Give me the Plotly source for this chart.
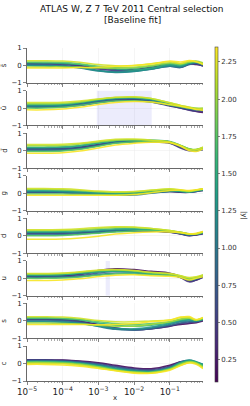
import plotly.graph_objects as go
from plotly.subplots import make_subplots
from plotly.colors import sample_colorscale

# ---------------- data ----------------
X = [1e-5, 3e-5, 1e-4, 3e-4, 1e-3, 3e-3, 1e-2, 3e-2, 0.1, 0.2, 0.35, 0.55, 0.85]
ABS_Y = [0.15, 0.45, 0.75, 1.0, 1.25, 1.5, 1.75, 2.0, 2.2, 2.33]
LABELS = ["s̄", "ū", "d̄", "g", "d", "u", "s", "c"]

sbar = [
    [0.12, 0.12, 0.1, 0.0, -0.15, -0.22, -0.22, -0.1, 0.05, -0.05, 0.1, 0.05, 0.0],
    [0.08, 0.08, 0.05, -0.05, -0.2, -0.28, -0.28, -0.15, 0.0, -0.1, 0.08, 0.1, -0.05],
    [0.05, 0.04, 0.0, -0.1, -0.28, -0.35, -0.3, -0.2, -0.05, -0.12, 0.05, 0.12, 0.0],
    [0.02, 0.0, -0.05, -0.15, -0.32, -0.4, -0.35, -0.22, -0.05, -0.1, 0.1, 0.15, 0.05],
    [0.0, -0.02, -0.05, -0.12, -0.3, -0.38, -0.33, -0.2, 0.0, -0.05, 0.12, 0.18, 0.05],
    [0.15, 0.14, 0.12, 0.05, -0.1, -0.2, -0.25, -0.15, 0.05, 0.0, 0.15, 0.2, 0.1],
    [0.2, 0.2, 0.18, 0.1, -0.05, -0.12, -0.15, -0.05, 0.12, 0.05, 0.18, 0.22, 0.1],
    [-0.08, -0.08, -0.08, -0.1, -0.15, -0.15, -0.1, 0.0, 0.15, 0.1, 0.2, 0.25, 0.15],
    [0.27, 0.27, 0.25, 0.18, 0.05, -0.02, 0.0, 0.1, 0.22, 0.12, 0.25, 0.2, 0.1],
    [-0.15, -0.15, -0.14, -0.12, -0.1, -0.05, 0.0, 0.08, 0.25, 0.2, 0.28, 0.22, 0.05],
]
ubar = [
    [0.12, 0.12, 0.15, 0.25, 0.4, 0.5, 0.5, 0.4, 0.15, 0.0, -0.1, -0.2, -0.25],
    [0.1, 0.1, 0.12, 0.2, 0.35, 0.45, 0.45, 0.35, 0.12, 0.0, -0.12, -0.18, -0.2],
    [0.05, 0.05, 0.08, 0.15, 0.3, 0.42, 0.45, 0.38, 0.15, 0.05, -0.05, -0.1, -0.15],
    [0.08, 0.08, 0.12, 0.22, 0.4, 0.52, 0.55, 0.45, 0.2, 0.05, -0.05, -0.1, -0.1],
    [0.15, 0.15, 0.18, 0.3, 0.45, 0.55, 0.58, 0.5, 0.25, 0.1, 0.0, -0.05, -0.05],
    [0.2, 0.2, 0.22, 0.32, 0.48, 0.58, 0.6, 0.5, 0.22, 0.1, 0.0, -0.05, -0.08],
    [0.0, 0.0, 0.05, 0.15, 0.3, 0.4, 0.42, 0.35, 0.18, 0.08, 0.0, -0.05, -0.1],
    [0.25, 0.25, 0.28, 0.35, 0.5, 0.6, 0.62, 0.55, 0.3, 0.15, 0.05, 0.0, 0.0],
    [0.32, 0.32, 0.33, 0.4, 0.52, 0.62, 0.65, 0.55, 0.3, 0.15, 0.05, -0.05, -0.05],
    [-0.1, -0.1, -0.05, 0.05, 0.2, 0.32, 0.38, 0.35, 0.2, 0.1, 0.0, -0.08, -0.12],
]
dbar = [
    [0.12, 0.12, 0.12, 0.2, 0.35, 0.5, 0.55, 0.55, 0.45, 0.2, 0.05, 0.05, 0.1],
    [0.1, 0.1, 0.1, 0.15, 0.3, 0.45, 0.5, 0.5, 0.42, 0.15, 0.0, 0.0, 0.05],
    [0.05, 0.05, 0.08, 0.15, 0.32, 0.48, 0.55, 0.52, 0.45, 0.22, 0.05, 0.02, 0.08],
    [0.0, 0.0, 0.02, 0.1, 0.28, 0.45, 0.55, 0.55, 0.5, 0.25, 0.05, 0.0, 0.1],
    [0.15, 0.15, 0.18, 0.25, 0.42, 0.55, 0.6, 0.58, 0.5, 0.25, 0.08, 0.05, 0.15],
    [0.2, 0.2, 0.22, 0.3, 0.45, 0.58, 0.62, 0.6, 0.52, 0.3, 0.1, 0.05, 0.15],
    [-0.05, -0.05, -0.02, 0.08, 0.25, 0.42, 0.5, 0.52, 0.48, 0.28, 0.1, 0.05, 0.15],
    [0.28, 0.28, 0.3, 0.38, 0.5, 0.6, 0.62, 0.58, 0.5, 0.3, 0.1, 0.08, 0.2],
    [0.35, 0.35, 0.36, 0.42, 0.55, 0.65, 0.66, 0.6, 0.5, 0.28, 0.05, 0.05, 0.2],
    [-0.15, -0.15, -0.12, -0.02, 0.15, 0.32, 0.42, 0.48, 0.45, 0.25, 0.0, -0.05, 0.1],
]
gluon = [
    [0.05, 0.05, 0.05, 0.03, 0.0, -0.02, 0.0, 0.05, 0.1, 0.05, 0.05, 0.1, 0.15],
    [0.08, 0.08, 0.07, 0.05, 0.02, 0.0, 0.02, 0.08, 0.12, 0.08, 0.05, 0.12, 0.2],
    [0.03, 0.03, 0.02, 0.0, -0.05, -0.08, -0.05, 0.02, 0.1, 0.08, 0.05, 0.1, 0.2],
    [0.1, 0.1, 0.08, 0.05, -0.02, -0.1, -0.1, 0.0, 0.1, 0.1, 0.05, 0.12, 0.15],
    [0.12, 0.12, 0.1, 0.06, 0.0, -0.05, -0.05, 0.05, 0.15, 0.12, 0.08, 0.15, 0.22],
    [0.18, 0.18, 0.16, 0.12, 0.05, 0.0, 0.02, 0.1, 0.18, 0.12, 0.08, 0.15, 0.2],
    [-0.05, -0.05, -0.05, -0.06, -0.08, -0.1, -0.05, 0.05, 0.15, 0.15, 0.1, 0.15, 0.25],
    [0.22, 0.22, 0.2, 0.15, 0.08, 0.05, 0.08, 0.15, 0.22, 0.15, 0.1, 0.18, 0.25],
    [0.27, 0.27, 0.25, 0.2, 0.12, 0.08, 0.1, 0.18, 0.25, 0.2, 0.12, 0.18, 0.22],
    [-0.12, -0.12, -0.12, -0.12, -0.12, -0.12, -0.08, 0.02, 0.15, 0.18, 0.15, 0.2, 0.25],
]
down = [
    [0.18, 0.18, 0.18, 0.2, 0.25, 0.3, 0.3, 0.28, 0.2, 0.1, 0.0, 0.05, 0.15],
    [0.15, 0.15, 0.15, 0.18, 0.22, 0.28, 0.3, 0.28, 0.22, 0.12, 0.02, 0.05, 0.1],
    [0.1, 0.1, 0.1, 0.12, 0.18, 0.25, 0.28, 0.28, 0.22, 0.12, 0.05, 0.08, 0.15],
    [0.05, 0.05, 0.06, 0.1, 0.18, 0.28, 0.32, 0.3, 0.25, 0.15, 0.05, 0.1, 0.2],
    [0.2, 0.2, 0.2, 0.22, 0.28, 0.35, 0.38, 0.35, 0.28, 0.18, 0.08, 0.1, 0.2],
    [0.25, 0.25, 0.26, 0.3, 0.35, 0.4, 0.4, 0.35, 0.28, 0.2, 0.1, 0.1, 0.18],
    [0.0, 0.0, 0.02, 0.08, 0.15, 0.22, 0.28, 0.3, 0.25, 0.18, 0.1, 0.12, 0.22],
    [0.3, 0.3, 0.32, 0.35, 0.42, 0.48, 0.48, 0.42, 0.3, 0.2, 0.12, 0.12, 0.2],
    [0.35, 0.35, 0.36, 0.4, 0.48, 0.52, 0.5, 0.42, 0.3, 0.2, 0.1, 0.1, 0.25],
    [-0.2, -0.2, -0.18, -0.12, -0.02, 0.1, 0.18, 0.22, 0.22, 0.18, 0.12, 0.15, 0.25],
]
up = [
    [0.14, 0.14, 0.15, 0.25, 0.45, 0.55, 0.5, 0.4, 0.3, 0.1, -0.15, -0.1, 0.1],
    [0.12, 0.12, 0.13, 0.2, 0.38, 0.5, 0.45, 0.35, 0.25, 0.05, -0.2, -0.1, 0.05],
    [0.08, 0.08, 0.1, 0.15, 0.3, 0.4, 0.38, 0.3, 0.2, 0.05, -0.12, -0.05, 0.1],
    [0.05, 0.05, 0.06, 0.1, 0.22, 0.3, 0.3, 0.25, 0.2, 0.1, -0.05, 0.0, 0.15],
    [0.18, 0.18, 0.2, 0.28, 0.4, 0.45, 0.4, 0.3, 0.25, 0.12, -0.05, 0.0, 0.15],
    [0.2, 0.2, 0.22, 0.3, 0.38, 0.4, 0.35, 0.28, 0.22, 0.1, -0.08, 0.0, 0.18],
    [0.0, 0.0, 0.02, 0.08, 0.18, 0.25, 0.25, 0.2, 0.18, 0.1, -0.02, 0.05, 0.15],
    [0.25, 0.25, 0.28, 0.35, 0.45, 0.48, 0.42, 0.32, 0.25, 0.15, 0.0, 0.05, 0.2],
    [0.28, 0.28, 0.3, 0.38, 0.48, 0.5, 0.45, 0.35, 0.28, 0.15, 0.05, 0.1, 0.2],
    [-0.12, -0.12, -0.1, -0.02, 0.1, 0.18, 0.2, 0.15, 0.12, 0.05, -0.1, 0.0, 0.1],
]
strange = [
    [0.1, 0.1, 0.08, 0.0, -0.2, -0.4, -0.5, -0.45, -0.3, -0.2, -0.15, -0.1, 0.0],
    [0.08, 0.08, 0.05, -0.05, -0.25, -0.42, -0.5, -0.45, -0.3, -0.15, -0.1, -0.05, 0.05],
    [0.05, 0.05, 0.02, -0.08, -0.28, -0.45, -0.52, -0.45, -0.25, -0.12, -0.05, -0.05, 0.05],
    [0.0, 0.0, -0.03, -0.12, -0.32, -0.48, -0.5, -0.4, -0.2, -0.05, 0.0, -0.02, 0.1],
    [-0.05, -0.05, -0.08, -0.15, -0.3, -0.42, -0.45, -0.35, -0.15, 0.0, 0.05, 0.0, 0.1],
    [0.15, 0.15, 0.13, 0.05, -0.12, -0.25, -0.3, -0.25, -0.1, 0.05, 0.1, 0.05, 0.12],
    [0.18, 0.18, 0.16, 0.1, -0.05, -0.15, -0.2, -0.15, -0.05, 0.1, 0.15, 0.05, 0.1],
    [-0.12, -0.12, -0.14, -0.18, -0.25, -0.3, -0.3, -0.2, -0.05, 0.1, 0.15, 0.05, 0.15],
    [0.24, 0.24, 0.22, 0.15, 0.02, -0.05, -0.05, 0.0, 0.05, 0.2, 0.2, 0.05, 0.2],
    [-0.2, -0.2, -0.2, -0.2, -0.22, -0.2, -0.15, -0.05, 0.05, 0.22, 0.25, 0.08, 0.18],
]
charm = [
    [0.22, 0.22, 0.2, 0.15, 0.05, -0.1, -0.25, -0.3, -0.1, 0.1, 0.15, 0.05, -0.1],
    [0.2, 0.2, 0.18, 0.12, 0.0, -0.15, -0.3, -0.35, -0.15, 0.1, 0.12, 0.0, -0.15],
    [0.18, 0.18, 0.15, 0.08, -0.05, -0.2, -0.35, -0.4, -0.2, 0.05, 0.15, 0.05, -0.1],
    [0.15, 0.15, 0.12, 0.05, -0.08, -0.25, -0.4, -0.45, -0.25, 0.05, 0.18, 0.08, -0.05],
    [0.12, 0.12, 0.1, 0.02, -0.12, -0.3, -0.42, -0.45, -0.25, 0.08, 0.2, 0.1, -0.05],
    [0.1, 0.1, 0.08, 0.0, -0.15, -0.32, -0.45, -0.48, -0.3, 0.0, 0.15, 0.08, -0.1],
    [0.08, 0.08, 0.05, -0.02, -0.18, -0.35, -0.48, -0.5, -0.3, 0.0, 0.12, 0.05, -0.15],
    [0.05, 0.05, 0.02, -0.05, -0.2, -0.38, -0.5, -0.52, -0.32, -0.05, 0.1, 0.02, -0.2],
    [0.0, 0.0, -0.02, -0.1, -0.25, -0.4, -0.52, -0.55, -0.35, -0.1, 0.05, 0.0, -0.25],
    [-0.05, -0.05, -0.08, -0.15, -0.28, -0.42, -0.55, -0.55, -0.38, -0.12, 0.05, -0.05, -0.3],
]
PANELS = [sbar, ubar, dbar, gluon, down, up, strange, charm]

# shaded x-ranges (panel index -> [xmin, xmax])
SHADE_UBAR = [9e-4, 0.031]
SHADE_U = [0.0016, 0.0021]
SHADES = {1: SHADE_UBAR, 5: SHADE_U}

CMIN, CMAX = 0.1, 2.35
CB_TICKS = [0.25, 0.5, 0.75, 1.0, 1.25, 1.5, 1.75, 2.0, 2.25]

TITLE_1 = "ATLAS W, Z 7 TeV 2011 Central selection"
TITLE_2 = "[Baseline fit]"

# ---------------- figure ----------------
W, H = 250, 406
ML, MR, MT, MB = 27, 47, 48, 25
plot_w = W - ML - MR
plot_h = H - MT - MB
gap = 7.6
vs = gap / plot_h

fig = make_subplots(rows=8, cols=1, shared_xaxes=True, vertical_spacing=vs)

FONT = "DejaVu Sans"
for i, curves in enumerate(PANELS):
    r = i + 1
    if i in SHADES:
        x0, x1 = SHADES[i]
        fig.add_trace(go.Scatter(x=[x0, x1, x1, x0, x0], y=[-1, -1, 1, 1, -1],
                                 fill="toself", fillcolor="rgba(110,110,230,0.13)",
                                 line=dict(width=0), mode="lines", hoverinfo="skip",
                                 showlegend=False), row=r, col=1)
    for vals, ay in zip(curves, ABS_Y):
        col = sample_colorscale("Viridis", [(ay - CMIN) / (CMAX - CMIN)])[0]
        fig.add_trace(go.Scatter(x=X, y=vals, mode="lines",
                                 line=dict(color=col, width=1.5, shape="spline", smoothing=1.0),
                                 opacity=0.9, showlegend=False, hoverinfo="skip"),
                      row=r, col=1)

# colorbar carrier
fig.add_trace(go.Scatter(x=[None, None], y=[None, None], mode="markers",
                         marker=dict(color=[CMIN, CMAX], colorscale="Viridis", cmin=CMIN, cmax=CMAX,
                                     size=0.1, showscale=True,
                                     colorbar=dict(x=(215 - ML) / plot_w, xanchor="left", xpad=0, ypad=0,
                                                   y=0.5, yanchor="middle", len=1.006, lenmode="fraction",
                                                   thickness=3, outlinewidth=0.6, outlinecolor="#444",
                                                   tickvals=CB_TICKS, ticktext=[f"{t:.2f}" for t in CB_TICKS],
                                                   ticks="outside", ticklen=2, tickwidth=0.6, tickcolor="#333",
                                                   tickfont=dict(size=7, color="#333", family=FONT))),
                         showlegend=False, hoverinfo="skip"), row=8, col=1)

for i in range(8):
    r = i + 1
    fig.update_yaxes(range=[-1, 1], tickvals=[-1, 0, 1], ticks="outside", ticklen=3, tickwidth=0.6,
                     tickcolor="#333", showline=True, linecolor="#444", linewidth=0.8,
                     showgrid=True, gridcolor="#ececec", gridwidth=0.5, zeroline=False,
                     tickfont=dict(size=7, color="#222", family=FONT),
                     title=dict(text=LABELS[i], standoff=6, font=dict(size=7, color="#222", family=FONT)),
                     automargin=False, row=r, col=1)
    fig.update_xaxes(type="log", range=[-5, -0.07], dtick=1, exponentformat="power",
                     ticks="outside", ticklen=3, tickwidth=0.6, tickcolor="#333",
                     minor=dict(ticks="outside", ticklen=1.5, tickwidth=0.5, tickcolor="#555", showgrid=False),
                     showline=True, linecolor="#444", linewidth=0.8,
                     showgrid=True, gridcolor="#ececec", gridwidth=0.5, zeroline=False,
                     showticklabels=(r == 8), automargin=False,
                     tickfont=dict(size=7, color="#222", family=FONT),
                     row=r, col=1)

tx = (132 - ML) / plot_w
fig.add_annotation(text=TITLE_1, xref="paper", yref="paper", x=tx, y=1 + (MT - 9) / plot_h,
                   xanchor="center", yanchor="middle", showarrow=False,
                   font=dict(size=9, color="#111", family=FONT))
fig.add_annotation(text=TITLE_2, xref="paper", yref="paper", x=tx, y=1 + (MT - 20) / plot_h,
                   xanchor="center", yanchor="middle", showarrow=False,
                   font=dict(size=9, color="#111", family=FONT))
fig.add_annotation(text="|y|", xref="paper", yref="paper", x=(244 - ML) / plot_w, y=(H - MB - 215) / plot_h,
                   xanchor="center", yanchor="middle", showarrow=False, textangle=90, borderpad=0,
                   font=dict(size=7, color="#222", family=FONT))
fig.add_annotation(text="x", xref="paper", yref="paper", x=(115 - ML) / plot_w, y=-(398 - (H - MB)) / plot_h,
                   xanchor="center", yanchor="middle", showarrow=False, borderpad=0,
                   font=dict(size=7, color="#222", family=FONT))

fig.update_layout(
    width=W, height=H,
    margin=dict(l=ML, r=MR, t=MT, b=MB, pad=0, autoexpand=False),
    paper_bgcolor="white", plot_bgcolor="white",
    font=dict(family=FONT, size=7, color="#222"),
)

fig.write_html("out.html", config={"displayModeBar": False, "staticPlot": True},
               post_script="document.body.style.margin='0';document.body.style.padding='0';"
                           "document.body.style.overflow='hidden';")
